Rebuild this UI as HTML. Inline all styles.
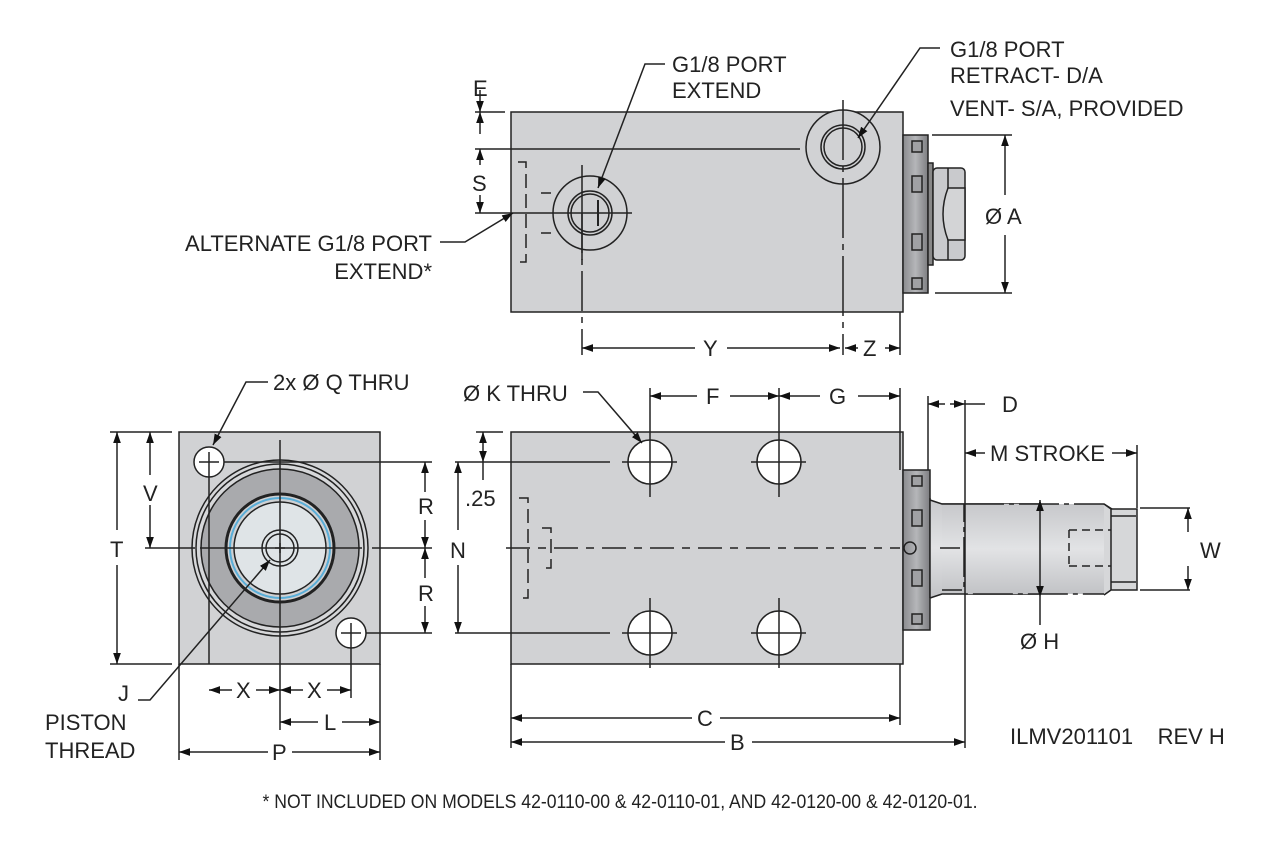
<!DOCTYPE html>
<html><head><meta charset="utf-8"><style>
html,body{margin:0;padding:0;background:#fff}
svg{display:block}
text{font-family:"Liberation Sans",sans-serif;font-size:22px;fill:#222}
</style></head><body>
<svg width="1282" height="844" viewBox="0 0 1282 844" xmlns="http://www.w3.org/2000/svg">
<defs>
<marker id="a" viewBox="0 0 10 10" refX="10" refY="5" markerWidth="11" markerHeight="11" markerUnits="userSpaceOnUse" orient="auto-start-reverse"><path d="M0,1.5 L10,5 L0,8.5z" fill="#111"/></marker>
<linearGradient id="fl" x1="0" x2="1"><stop offset="0" stop-color="#8a8b8e"/><stop offset=".5" stop-color="#b5b6b9"/><stop offset="1" stop-color="#7d7e81"/></linearGradient>
<linearGradient id="rod" x1="0" y1="0" x2="0" y2="1"><stop offset="0" stop-color="#c7c8cb"/><stop offset=".5" stop-color="#e2e3e5"/><stop offset="1" stop-color="#c2c3c6"/></linearGradient>
</defs>
<g stroke="#222" stroke-width="1.5" fill="none">
<!-- TOP VIEW -->
<rect x="511" y="112" width="392" height="200" fill="#d1d2d4"/>
<rect x="903" y="135" width="25" height="158" fill="url(#fl)"/>
<rect x="912" y="141" width="10" height="11" fill="#a0a1a4"/><rect x="912" y="176" width="10" height="16" fill="#a0a1a4"/><rect x="912" y="234" width="10" height="16" fill="#a0a1a4"/><rect x="912" y="278" width="10" height="11" fill="#a0a1a4"/>
<rect x="928" y="163" width="5" height="102" fill="#888"/>
<rect x="933" y="168" width="32" height="92" rx="4" fill="#c9cacd"/>
<line x1="948" y1="168" x2="948" y2="260"/>
<path d="M948,188 h17 v52 h-17 q-10,-26 0,-52z" fill="#d3d4d6"/>
<!-- ports -->
<circle cx="590" cy="213" r="37" fill="#d1d2d4"/>
<circle cx="590" cy="213" r="22" fill="#cfd0d2"/><circle cx="590" cy="213" r="19"/>
<line x1="598" y1="200" x2="598" y2="226" stroke-width="2"/>
<circle cx="843" cy="147" r="37" fill="#d1d2d4"/>
<circle cx="843" cy="147" r="22"/><circle cx="843" cy="147" r="19"/>
<path d="M518,162h8v100h-8" stroke-dasharray="14,6"/>
<path d="M541,193h10 M541,233h10"/>
<line x1="582" y1="213" x2="582" y2="355" stroke-dasharray="40,6,6,6"/>
<line x1="582" y1="165" x2="582" y2="260"/>
<line x1="475" y1="213" x2="632" y2="213"/>
<line x1="843" y1="100" x2="843" y2="355" stroke-dasharray="60,6,6,6"/>
<line x1="475" y1="149" x2="800" y2="149"/>
<line x1="475" y1="112" x2="505" y2="112"/>
<line x1="480" y1="90" x2="480" y2="112" marker-end="url(#a)"/>
<line x1="480" y1="134" x2="480" y2="112" marker-end="url(#a)"/>
<line x1="480" y1="149" x2="480" y2="165" marker-start="url(#a)"/>
<line x1="480" y1="195" x2="480" y2="213" marker-end="url(#a)"/>
<line x1="932" y1="135" x2="1012" y2="135"/><line x1="935" y1="293" x2="1012" y2="293"/>
<line x1="1005" y1="135" x2="1005" y2="195" marker-start="url(#a)"/>
<line x1="1005" y1="235" x2="1005" y2="293" marker-end="url(#a)"/>
<line x1="900" y1="312" x2="900" y2="355"/>
<line x1="582" y1="348" x2="695" y2="348" marker-start="url(#a)"/>
<line x1="727" y1="348" x2="840" y2="348" marker-end="url(#a)"/>
<line x1="845" y1="348" x2="858" y2="348" marker-start="url(#a)"/>
<line x1="885" y1="348" x2="900" y2="348" marker-end="url(#a)"/>
<!-- leaders top -->
<path d="M665,64 h-20 L598,188" marker-end="url(#a)"/>
<path d="M940,48 h-20 L858,138" marker-end="url(#a)"/>
<path d="M440,242 h25 L513,213" marker-end="url(#a)"/>

<!-- END VIEW -->
<rect x="179" y="432" width="201" height="232" fill="#d1d2d4"/>
<circle cx="280" cy="548" r="88" fill="#d6d7d9"/><circle cx="280" cy="548" r="84"/>
<circle cx="280" cy="548" r="79" fill="#a9aaad"/>
<circle cx="280" cy="548" r="54" fill="#cfd0d2" stroke-width="3"/>
<circle cx="280" cy="548" r="50" stroke="#5aaed8" stroke-width="2"/>
<circle cx="280" cy="548" r="46" fill="#dfe4e7"/>
<circle cx="280" cy="548" r="18"/><circle cx="280" cy="548" r="14"/>
<path d="M275,548h10M280,543v10"/>
<circle cx="209" cy="462" r="15" fill="#fff"/><circle cx="351" cy="633" r="15" fill="#fff"/>
<path d="M199,462h20M209,452v212 M341,633h20M351,623v75"/>
<line x1="280" y1="440" x2="280" y2="730"/>
<line x1="145" y1="548" x2="195" y2="548"/><line x1="200" y1="548" x2="362" y2="548"/><line x1="372" y1="548" x2="432" y2="548"/>
<line x1="224" y1="462" x2="432" y2="462"/><line x1="366" y1="633" x2="432" y2="633"/>
<line x1="110" y1="432" x2="172" y2="432"/><line x1="110" y1="664" x2="172" y2="664"/>
<line x1="117" y1="432" x2="117" y2="530" marker-start="url(#a)"/><line x1="117" y1="565" x2="117" y2="664" marker-end="url(#a)"/>
<line x1="150" y1="432" x2="150" y2="475" marker-start="url(#a)"/><line x1="150" y1="505" x2="150" y2="548" marker-end="url(#a)"/>
<line x1="425" y1="462" x2="425" y2="492" marker-start="url(#a)"/><line x1="425" y1="520" x2="425" y2="548" marker-end="url(#a)"/>
<line x1="425" y1="548" x2="425" y2="578" marker-start="url(#a)"/><line x1="425" y1="606" x2="425" y2="633" marker-end="url(#a)"/>
<line x1="209" y1="690" x2="232" y2="690" marker-start="url(#a)"/><line x1="256" y1="690" x2="280" y2="690" marker-end="url(#a)"/>
<line x1="280" y1="690" x2="303" y2="690" marker-start="url(#a)"/><line x1="327" y1="690" x2="351" y2="690" marker-end="url(#a)"/>
<line x1="380" y1="664" x2="380" y2="760"/><line x1="179" y1="664" x2="179" y2="760"/>
<line x1="280" y1="722" x2="318" y2="722" marker-start="url(#a)"/><line x1="342" y1="722" x2="380" y2="722" marker-end="url(#a)"/>
<line x1="179" y1="752" x2="268" y2="752" marker-start="url(#a)"/><line x1="292" y1="752" x2="380" y2="752" marker-end="url(#a)"/>
<path d="M268,382 h-22 L213,445" marker-end="url(#a)"/>
<path d="M138,700 h12 L270,560" marker-end="url(#a)"/>

<!-- SIDE VIEW -->
<rect x="511" y="432" width="392" height="232" fill="#d1d2d4"/>
<circle cx="650" cy="462" r="22" fill="#fff"/><circle cx="779" cy="462" r="22" fill="#fff"/>
<circle cx="650" cy="633" r="22" fill="#fff"/><circle cx="779" cy="633" r="22" fill="#fff"/>
<path d="M650,412v85 M779,435v62 M650,598v70 M779,598v70 M622,462h55 M751,462h55 M622,633h55 M751,633h55"/>
<line x1="455" y1="462" x2="610" y2="462" stroke-dasharray="160,6,8,6"/>
<line x1="455" y1="633" x2="610" y2="633" stroke-dasharray="160,6,8,6"/>
<line x1="476" y1="432" x2="503" y2="432"/>
<line x1="483" y1="432" x2="483" y2="462" marker-start="url(#a)" marker-end="url(#a)"/>
<line x1="483" y1="462" x2="483" y2="480"/>
<line x1="458" y1="462" x2="458" y2="530" marker-start="url(#a)"/><line x1="458" y1="565" x2="458" y2="633" marker-end="url(#a)"/>
<path d="M519,498h9v100h-9" stroke-dasharray="14,6"/>
<path d="M542,528h9v40h-9" stroke-dasharray="14,6"/>
<line x1="506" y1="548" x2="900" y2="548" stroke-dasharray="24,8,8,8"/>
<rect x="903" y="470" width="27" height="160" fill="url(#fl)"/>
<rect x="912" y="476" width="10" height="10" fill="#a0a1a4"/><rect x="912" y="510" width="10" height="16" fill="#a0a1a4"/><rect x="912" y="570" width="10" height="16" fill="#a0a1a4"/><rect x="912" y="614" width="10" height="10" fill="#a0a1a4"/>
<circle cx="910" cy="548" r="6"/>
<path d="M930,498 v100 M930,500 l12,4 h96 v90 h-96 l-12,4" fill="url(#rod)"/>
<path d="M942,504 h22 v86 h-22 M964,504 h140 l8,5 v80 l-8,5 h-140" fill="url(#rod)" stroke-dasharray="40,5,5,5"/>
<line x1="940" y1="548" x2="960" y2="548"/>
<path d="M1104,504 l7,5 h26 v81 h-26 l-7,5 M1111,509 v81 M1111,516 h25 M1111,582 h25" fill="#d6d7d9"/>
<path d="M1069,530 h42 M1069,566 h42 M1069,530 v36" stroke-dasharray="8,5"/>
<line x1="1040" y1="500" x2="1040" y2="597" marker-start="url(#a)" marker-end="url(#a)"/>
<line x1="1040" y1="597" x2="1040" y2="625"/>
<path d="M1140,508 h50 M1140,590 h50"/>
<line x1="1188" y1="508" x2="1188" y2="532" marker-start="url(#a)"/><line x1="1188" y1="566" x2="1188" y2="590" marker-end="url(#a)"/>
<line x1="1137" y1="445" x2="1137" y2="508"/>
<line x1="965" y1="400" x2="965" y2="748"/><line x1="928" y1="396" x2="928" y2="470"/>
<line x1="928" y1="404" x2="945" y2="404" marker-start="url(#a)"/><line x1="950" y1="404" x2="965" y2="404" marker-end="url(#a)"/><line x1="965" y1="404" x2="985" y2="404"/>
<line x1="965" y1="453" x2="985" y2="453" marker-start="url(#a)"/><line x1="1112" y1="453" x2="1137" y2="453" marker-end="url(#a)"/>
<line x1="650" y1="388" x2="650" y2="412"/><line x1="779" y1="388" x2="779" y2="435"/><line x1="900" y1="388" x2="900" y2="470"/>
<line x1="650" y1="396" x2="697" y2="396" marker-start="url(#a)"/><line x1="730" y1="396" x2="779" y2="396" marker-end="url(#a)"/>
<line x1="779" y1="396" x2="820" y2="396" marker-start="url(#a)"/><line x1="858" y1="396" x2="900" y2="396" marker-end="url(#a)"/>
<line x1="511" y1="664" x2="511" y2="748"/><line x1="900" y1="664" x2="900" y2="725"/>
<line x1="511" y1="718" x2="692" y2="718" marker-start="url(#a)"/><line x1="720" y1="718" x2="900" y2="718" marker-end="url(#a)"/>
<line x1="511" y1="742" x2="725" y2="742" marker-start="url(#a)"/><line x1="752" y1="742" x2="965" y2="742" marker-end="url(#a)"/>
<path d="M583,392 h15 L642,443" marker-end="url(#a)"/>
</g>
<!-- TEXT -->
<text x="672" y="72">G1/8 PORT</text>
<text x="672" y="98">EXTEND</text>
<text x="950" y="57">G1/8 PORT</text>
<text x="950" y="83">RETRACT- D/A</text>
<text x="950" y="116">VENT- S/A, PROVIDED</text>
<text x="473" y="96">E</text>
<text x="472" y="191">S</text>
<text x="432" y="251" text-anchor="end">ALTERNATE G1/8 PORT</text>
<text x="432" y="279" text-anchor="end">EXTEND*</text>
<text x="985" y="224">Ø A</text>
<text x="703" y="356">Y</text>
<text x="863" y="356">Z</text>
<text x="273" y="390">2x Ø Q THRU</text>
<text x="463" y="401">Ø K THRU</text>
<text x="706" y="404">F</text>
<text x="829" y="404">G</text>
<text x="1002" y="412">D</text>
<text x="990" y="461">M STROKE</text>
<text x="110" y="557">T</text>
<text x="143" y="501">V</text>
<text x="418" y="514">R</text>
<text x="418" y="601">R</text>
<text x="465" y="506">.25</text>
<text x="450" y="558">N</text>
<text x="1200" y="558">W</text>
<text x="1020" y="649">Ø H</text>
<text x="236" y="698">X</text>
<text x="307" y="698">X</text>
<text x="324" y="730">L</text>
<text x="272" y="760">P</text>
<text x="118" y="701">J</text>
<text x="45" y="730">PISTON</text>
<text x="45" y="758">THREAD</text>
<text x="697" y="726">C</text>
<text x="730" y="750">B</text>
<text x="1010" y="744">ILMV201101&#160;&#160;&#160;&#160;REV H</text>
<text x="620" y="808" text-anchor="middle" style="font-size:19px" textLength="715" lengthAdjust="spacingAndGlyphs">* NOT INCLUDED ON MODELS 42-0110-00 &amp; 42-0110-01, AND 42-0120-00 &amp; 42-0120-01.</text>
</svg>
</body></html>
